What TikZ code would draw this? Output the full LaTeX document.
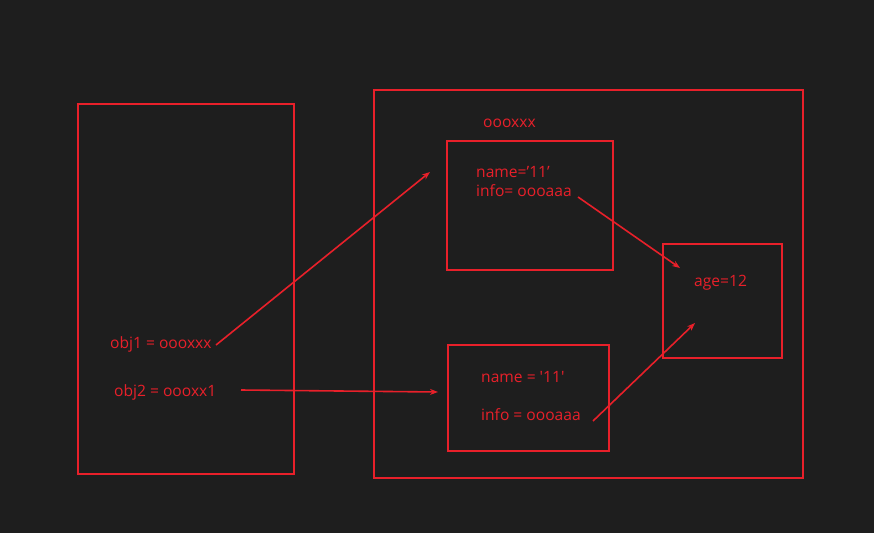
\documentclass[tikz,border=0pt]{standalone}
\usepackage{fontspec}
\setmainfont{Open Sans}
\newfontfamily\plainq{Open Sans}[Ligatures=TeXOff]
\usetikzlibrary{arrows.meta}
\definecolor{bg}{HTML}{1E1E1E}
\definecolor{rd}{HTML}{E8202A}
\begin{document}
\begin{tikzpicture}[x=1pt,y=-1pt,
  box/.style={draw=rd,line width=2pt},
  lbl/.style={text=rd,anchor=west,inner sep=0pt,font=\fontsize{15.6}{18}\selectfont},
  arr/.style={draw=rd,line width=1.6pt,-{Stealth[length=8pt,width=6pt]}}]
\fill[bg] (0,0) rectangle (874,533);
\useasboundingbox (0,0) rectangle (874,533);
% boxes
\draw[box] (78,104) rectangle (294,474);
\draw[box] (374,90) rectangle (803,478);
\draw[box] (447,141) rectangle (613,270);
\draw[box] (448,345) rectangle (609,451);
\draw[box] (663,244) rectangle (782,358);
% texts
\node[lbl] (ox) at (483,123) {oooxxx};
\node[lbl] (n1) at (476,172) {name=’11’};
\node[lbl] (i1) at (476,191) {info= oooaaa};
\node[lbl] (age) at (694,283) {age=12};
\node[lbl] (o1) at (110,344) {obj1 = oooxxx};
\node[lbl] (o2) at (114,392) {obj2 = oooxx1};
\node[lbl] (n2) at (481,377) {\plainq name = '11'};
\node[lbl] (i2) at (481,415) {info = oooaaa};
% arrow endpoints
\coordinate (a1s) at (216,345);
\coordinate (a1e) at (430,172);
\coordinate (a2s) at (241,390);
\coordinate (a2e) at (438,392);
\coordinate (a3s) at (578,197);
\coordinate (a3e) at (680,268);
\coordinate (a4s) at (593,421);
\coordinate (a4e) at (695,323);
\draw[arr] (a1s) -- (a1e);
\draw[arr] (a2s) -- (a2e);
\draw[arr] (a3s) -- (a3e);
\draw[arr] (a4s) -- (a4e);
\end{tikzpicture}
\end{document}
